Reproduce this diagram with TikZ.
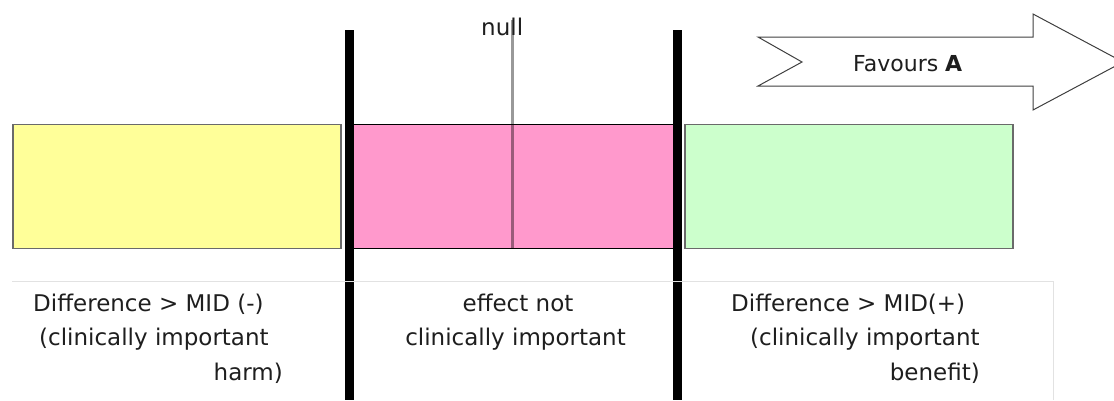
\documentclass[tikz,border=0pt]{standalone}
\usepackage{fontspec}
\setmainfont{DejaVu Sans}
\definecolor{harmY}{HTML}{FFFF99}
\definecolor{nullP}{HTML}{FF99CC}
\definecolor{benG}{HTML}{CCFFCC}
\definecolor{boxEdge}{HTML}{6A6A6A}
\definecolor{txt}{HTML}{1E1E1E}
\definecolor{faint}{HTML}{E2E2E2}
\begin{document}
\begin{tikzpicture}[x=1pt,y=-1pt,
  zone/.style={draw=boxEdge,line width=1.4pt},
  bar/.style={line width=9pt,black},
  lbl/.style={inner sep=0pt,text=txt,font=\fontsize{23}{29}\selectfont},
  arrowshape/.style={draw=black!75,line width=1pt,fill=white,line join=miter}]
\useasboundingbox (0,0) rectangle (1114,400);
% zones
\draw[zone,fill=harmY] (13,124.5) rectangle (341,248.5);
\draw[zone,draw=black,fill=nullP] (349,124.5) rectangle (677,248.5);
\draw[zone,fill=benG] (685,124.5) rectangle (1013,248.5);
% null line
\draw[line width=3pt,black,opacity=0.4] (512.5,20) -- (512.5,248.5);
% thresholds
\draw[bar] (349.5,30) -- (349.5,400);
\draw[bar] (677,30) -- (677,400);
% faint frame under the bars
\draw[faint,line width=1pt] (12,281) -- (1053,281) -- (1053,400);
% arrow
\draw[arrowshape] (758,37) -- (1033,37) -- (1033,14) -- (1123,62) -- (1033,110)
  -- (1033,86) -- (758,86) -- (802,62) -- cycle;
\node[lbl,anchor=base west,font=\fontsize{22}{26}\selectfont] (fav) at (853,71) {Favours \textbf{A}};
\node[lbl,anchor=base west] (null) at (481,35) {null};
% labels
\node[lbl,anchor=base west] (l1) at (33,311) {Difference > MID (-)};
\node[lbl,anchor=base west] (l2) at (39,345.5) {(clinically important};
\node[lbl,anchor=base east] (l3) at (283,380) {harm)};
\node[lbl,anchor=base] (m1) at (518,311) {effect not};
\node[lbl,anchor=base] (m2) at (515.5,345.5) {clinically important};
\node[lbl,anchor=base west] (r1) at (731,311) {Difference > MID(+)};
\node[lbl,anchor=base west] (r2) at (750,345.5) {(clinically important};
\node[lbl,anchor=base east] (r3) at (980,380) {benefit)};
\end{tikzpicture}
\end{document}
